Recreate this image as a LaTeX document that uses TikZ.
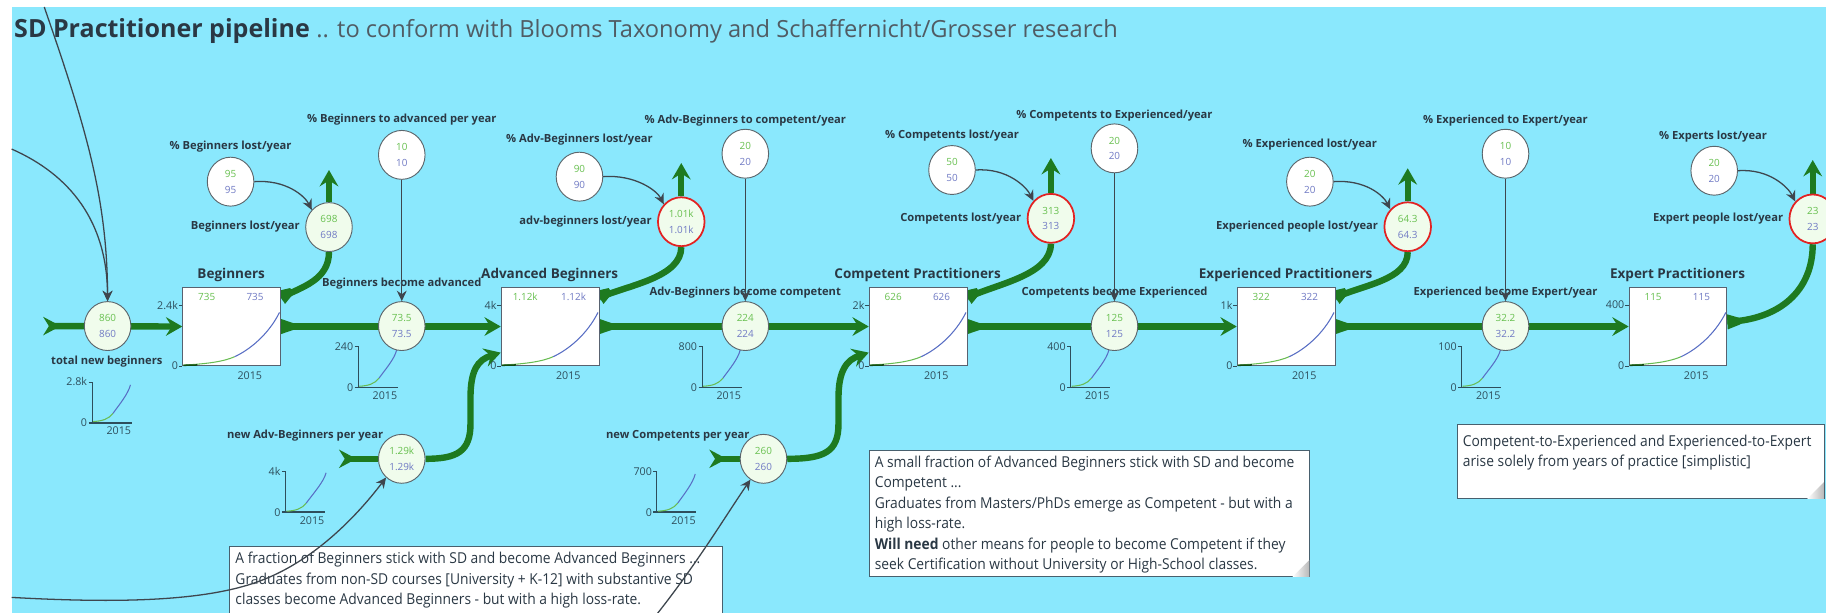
\documentclass[tikz,border=0pt]{standalone}
\usepackage{fontspec}
\setmainfont{Open Sans}
\newfontfamily\notefont[FakeStretch=0.92]{Open Sans}
\usetikzlibrary{arrows.meta,shapes.geometric,calc}
\pgfdeclarelayer{bg}
\pgfdeclarelayer{flow}
\pgfsetlayers{bg,flow,main}

\definecolor{bgcyan}{RGB}{138,232,253}
\definecolor{pipegreen}{RGB}{30,122,32}
\definecolor{linkgray}{RGB}{62,70,78}
\definecolor{labeltext}{RGB}{42,56,68}
\definecolor{titlegray}{RGB}{80,92,100}
\definecolor{numgreen}{RGB}{104,192,80}
\definecolor{numblue}{RGB}{112,122,196}
\definecolor{flowfill}{RGB}{240,252,236}
\definecolor{circgray}{RGB}{92,102,108}
\definecolor{lossred}{RGB}{226,34,34}
\definecolor{boxgray}{RGB}{88,98,112}
\definecolor{notegray}{RGB}{72,96,110}
\definecolor{curvegreen}{RGB}{104,188,82}
\definecolor{curveblue}{RGB}{88,110,196}
\definecolor{axiscol}{RGB}{46,78,92}

\tikzset{
  pipe/.style={draw=pipegreen, line width=5.5pt},
  pipearrow/.style={pipe, -{Stealth[length=14pt,width=16pt,inset=5pt]}},
  link/.style={draw=linkgray, line width=1.1pt, -{Stealth[length=9pt,width=8.5pt,inset=3pt]}},
  flowc/.style={ellipse, draw=circgray, line width=0.8pt, fill=flowfill, minimum width=40pt, minimum height=42pt, inner sep=0pt, align=center, font=\fontsize{8.5}{13.5}\selectfont},
  lossc/.style={flowc, draw=lossred, line width=1.5pt},
  parc/.style={flowc, fill=white},
  stockbox/.style={rectangle, draw=boxgray, fill=white, line width=0.8pt, minimum width=84pt, minimum height=67pt, inner sep=0pt},
  lbl/.style={font=\bfseries\fontsize{9.6}{11}\selectfont, text=labeltext, inner sep=0.5pt},
  stocktitle/.style={font=\bfseries\fontsize{11.6}{13}\selectfont, text=labeltext, inner sep=0pt},
  val/.style={font=\fontsize{8.5}{10}\selectfont, inner sep=0pt},
  axlbl/.style={font=\fontsize{9.2}{10}\selectfont, text=axiscol, inner sep=0.5pt},
  notebox/.style={rectangle, draw=notegray, fill=white, line width=0.8pt, inner sep=0pt},
  notetext/.style={font=\notefont\fontsize{12.9}{17.6}\selectfont, text=labeltext, align=left, inner sep=0pt},
}

% two stacked values inside a circle
\newcommand{\twovals}[2]{\textcolor{numgreen}{#1}\\\textcolor{numblue}{#2}}
% flared start of a pipe leaving a stock: #1 point, #2 direction
\newcommand{\flare}[2]{%
  \fill[pipegreen, shift={#1}, rotate=#2] (0,-6.5) -- (11,-2.75) -- (11,2.75) -- (0,6.5) -- cycle;}
% forked tail of a pipe coming from outside the model
\newcommand{\pipetail}[1]{%
  \fill[pipegreen, shift={#1}] (-5,-8) -- (10,0) -- (-5,8) -- (0,0) -- cycle;}
% folded corner of a note
\newcommand{\pagecurl}[1]{%
  \shade[left color=white, right color=black!28, shift={(#1.south east)}] (-15,-0.4) -- (-0.4,-15) -- (-0.4,-0.4) -- cycle;}
% contents of a stock: behaviour graph, values, axis labels
\newcommand{\stockinside}[3]{%
  \begin{scope}[shift={(#1.south west)}]
    \draw[curvegreen, line width=0.9pt] (1,-0.8) .. controls (22,-1.8) and (36,-4) .. (45,-8);
    \draw[curveblue, line width=0.9pt] (45,-8) .. controls (58,-14) and (74,-27) .. (83.5,-46);
    \draw[pipegreen!60!black, line width=1.3pt] (1,-0.6) -- (13,-0.9);
  \end{scope}
  \node[val, text=numgreen] (#1-v1) at ($(#1.north west)+(21,8.5)$) {#3};
  \node[val, text=numblue] (#1-v2) at ($(#1.north west)+(62.5,8.5)$) {#3};
  \draw[axiscol, line width=0.6pt] ($(#1.north west)+(-3,15.5)$) -- ($(#1.north west)+(0,15.5)$);
  \node[axlbl, anchor=east] (#1-max) at ($(#1.north west)+(-3,15.5)$) {#2};
  \draw[axiscol, line width=0.6pt] ($(#1.south west)+(-3,0)$) -- (#1.south west);
  \node[axlbl, anchor=east] (#1-zero) at ($(#1.south west)+(-3,0)$) {0};
  \node[axlbl] (#1-year) at ($(#1.south west)+(58,8.5)$) {2015};
}
% small behaviour graph of a flow: #1 name, #2 axis x, #3 top y, #4 max label, #5/#6 curve end
\newcommand{\flowgraph}[6]{%
  \draw[axiscol, line width=0.7pt] (#2-3,#3) -- (#2,#3) -- (#2,#3+35);
  \draw[axiscol, line width=1.6pt] (#2-3,#3+35) -- (#2+34,#3+35);
  \node[axlbl, anchor=east] (#1-max) at (#2-3.5,#3) {#4};
  \node[axlbl, anchor=east] (#1-zero) at (#2-3.5,#3+35) {0};
  \node[axlbl] (#1-year) at (#2+23,#3+42) {2015};
  \draw[curvegreen, line width=0.9pt] (#2+1,#3+34) .. controls (#2+9,#3+33.5) and (#2+14,#3+32) .. (#2+18,#3+27);
  \draw[curveblue, line width=0.9pt] (#2+18,#3+27) .. controls (#2+23,#3+20) and (#5-2,#6+8) .. (#5,#6);
}

\begin{document}
\begin{tikzpicture}[x=1pt,y=-1pt]
\useasboundingbox (0,0) rectangle (1568,526);
\clip (0,0) rectangle (1568,526);

\begin{pgfonlayer}{bg}
\fill[white] (0,0) rectangle (1568,526);
\fill[bgcyan] (10,6) rectangle (1568,526);
\node[anchor=base west, inner sep=0pt, text=labeltext] (title) at (12,32)
  {\fontsize{21.5}{24}\selectfont\textbf{SD Practitioner pipeline} {\fontsize{20.3}{24}\selectfont\textcolor{titlegray}{.. to conform with Blooms Taxonomy and Schaffernicht/Grosser research}}};

% notes
\node[notebox, anchor=north west, minimum width=423pt, minimum height=80pt] (note1) at (197,469) {};
\node[notetext, anchor=north west] (note1txt) at (202,474)
  {A fraction of Beginners stick with SD and become Advanced Beginners ...\\
   Graduates from non-SD courses [University + K-12] with substantive SD\\
   classes become Advanced Beginners - but with a high loss-rate.};
\node[notebox, anchor=north west, minimum width=378pt, minimum height=109pt] (note2) at (746,386) {};
\node[notetext, anchor=north west] (note2txt) at (751,391)
  {A small fraction of Advanced Beginners stick with SD and become\\
   Competent ...\\
   Graduates from Masters/PhDs emerge as Competent - but with a\\
   high loss-rate.\\
   \textbf{Will need} other means for people to become Competent if they\\
   seek Certification without University or High-School classes.};
\pagecurl{note2}
\node[notebox, anchor=north west, minimum width=315pt, minimum height=64pt] (note3) at (1251,364) {};
\node[notetext, anchor=north west] (note3txt) at (1256,373)
  {Competent-to-Experienced and Experienced-to-Expert\\
   arise solely from years of practice [simplistic]};
\pagecurl{note3}
\end{pgfonlayer}

% stocks
\node[stockbox, anchor=north west] (sBeg) at (156.5,246.5) {};
\node[stockbox, anchor=north west] (sAdv) at (430,246.5) {};
\node[stockbox, anchor=north west] (sCom) at (746,246.5) {};
\node[stockbox, anchor=north west] (sExp) at (1062,246.5) {};
\node[stockbox, anchor=north west] (sXpt) at (1398.5,246.5) {};
\stockinside{sBeg}{2.4k}{735}
\stockinside{sAdv}{4k}{1.12k}
\stockinside{sCom}{2k}{626}
\stockinside{sExp}{1k}{322}
\stockinside{sXpt}{400}{115}
\node[stocktitle] (tBeg) at (198.5,236.5) {Beginners};
\node[stocktitle] (tAdv) at (472,236.5) {Advanced Beginners};
\node[stocktitle] (tCom) at (788,236.5) {Competent Practitioners};
\node[stocktitle] (tExp) at (1104,236.5) {Experienced Practitioners};
\node[stocktitle] (tXpt) at (1440.5,236.5) {Expert Practitioners};

% flows
\node[flowc] (fTot) at (92.4,280) {\twovals{860}{860}};
\node[flowc] (fBA) at (345,280) {\twovals{73.5}{73.5}};
\node[flowc] (fAC) at (640,280) {\twovals{224}{224}};
\node[flowc] (fCE) at (957,280) {\twovals{125}{125}};
\node[flowc] (fEX) at (1292.8,280) {\twovals{32.2}{32.2}};
\node[flowc] (nAdv) at (345,394) {\twovals{1.29k}{1.29k}};
\node[flowc] (nCom) at (655.6,394) {\twovals{260}{260}};
\node[flowc] (lBeg) at (282.5,195) {\twovals{698}{698}};
\node[lossc] (lAdv) at (585,190.4) {\twovals{1.01k}{1.01k}};
\node[lossc] (lCom) at (902.4,187.5) {\twovals{313}{313}};
\node[lossc] (lExp) at (1208.8,194.7) {\twovals{64.3}{64.3}};
\node[lossc] (lXpt) at (1556.6,188) {\twovals{23}{23}};

% parameters
\node[parc] (pLB) at (198,156) {\twovals{95}{95}};
\node[parc] (pLA) at (497.6,151.7) {\twovals{90}{90}};
\node[parc] (pLC) at (817.5,146) {\twovals{50}{50}};
\node[parc] (pLE) at (1124.8,156) {\twovals{20}{20}};
\node[parc] (pLX) at (1472,146.6) {\twovals{20}{20}};
\node[parc] (pBA) at (345,133) {\twovals{10}{10}};
\node[parc] (pAC) at (640,132) {\twovals{20}{20}};
\node[parc] (pCE) at (957,127.4) {\twovals{20}{20}};
\node[parc] (pEX) at (1292.8,132) {\twovals{10}{10}};

% pipes
\begin{pgfonlayer}{flow}
\coordinate (tailTot) at (42,280);
\pipetail{(tailTot)}
\draw[pipearrow] (tailTot) -- (sBeg.west);
\flare{(sBeg.east)}{0}
\draw[pipearrow] (sBeg.east) -- (sAdv.west);
\flare{(sAdv.east)}{0}
\draw[pipearrow] (sAdv.east) -- (sCom.west);
\flare{(sCom.east)}{0}
\draw[pipearrow] (sCom.east) -- (sExp.west);
\flare{(sExp.east)}{0}
\draw[pipearrow] (sExp.east) -- (sXpt.west);

\coordinate (oBeg) at ($(sBeg.north east)+(0,9)$);
\coordinate (oAdv) at ($(sAdv.north east)+(0,9)$);
\coordinate (oCom) at ($(sCom.north east)+(0,9)$);
\coordinate (oExp) at ($(sExp.north east)+(0,9)$);
\coordinate (oXpt) at ($(sXpt.east)+(0,-4)$);
\coordinate (upBeg) at (282.5,146);
\coordinate (upAdv) at (585,140);
\coordinate (upCom) at (902.4,135.7);
\coordinate (upExp) at (1208.8,144.5);
\coordinate (upXpt) at (1556.6,137.4);
\flare{(oBeg)}{32}
\flare{(oAdv)}{32}
\flare{(oCom)}{32}
\flare{(oExp)}{32}
\flare{(oXpt)}{3}
\draw[pipe] (oBeg) .. controls +(18,-9) and +(0,24) .. (lBeg.south);
\draw[pipe] (oAdv) .. controls +(26,-11) and +(0,26) .. (lAdv.south);
\draw[pipe] (oCom) .. controls +(26,-12) and +(0,27) .. (lCom.south);
\draw[pipe] (oExp) .. controls +(24,-11) and +(0,24) .. (lExp.south);
\draw[pipe] (oXpt) .. controls +(45,-2) and +(0,40) .. (lXpt.south);
\draw[pipearrow] (lBeg.north) -- (upBeg);
\draw[pipearrow] (lAdv.north) -- (upAdv);
\draw[pipearrow] (lCom.north) -- (upCom);
\draw[pipearrow] (lExp.north) -- (upExp);
\draw[pipearrow] (lXpt.north) -- (upXpt);

\coordinate (tailNA) at (296,394);
\coordinate (inAdv) at ($(sAdv.south west)+(0,-11.5)$);
\pipetail{(tailNA)}
\draw[pipe] (tailNA) -- (nAdv.west);
\draw[pipearrow] (nAdv.east) .. controls (392,394) and (404,388) .. (404,364) -- (404,342) .. controls (404,318) and (410,309) .. (inAdv);
\coordinate (tailNC) at (614,394);
\coordinate (inCom) at ($(sCom.south west)+(0,-11.5)$);
\pipetail{(tailNC)}
\draw[pipe] (tailNC) -- (nCom.west);
\draw[pipearrow] (nCom.east) .. controls (708,394) and (720,388) .. (720,364) -- (720,342) .. controls (720,318) and (727,309) .. (inCom);

% behaviour graphs of the flows
\flowgraph{gTot}{79}{328}{2.8k}{112}{330.5}
\flowgraph{gBA}{307.5}{297.7}{240}{340.6}{300.6}
\flowgraph{gAC}{602.8}{297.7}{800}{635.6}{300.6}
\flowgraph{gCE}{919.3}{297.7}{400}{952.2}{300.6}
\flowgraph{gEX}{1255}{297.7}{100}{1288.4}{300.6}
\flowgraph{gNA}{245}{405}{4k}{280}{406}
\flowgraph{gNC}{564}{405}{700}{597}{407}
\end{pgfonlayer}

% labels
\node[lbl] (tPLB) at (198,126) {\% Beginners lost/year};
\node[lbl] (tPLA) at (497.6,120) {\% Adv-Beginners lost/year};
\node[lbl] (tPLC) at (817.5,116.5) {\% Competents lost/year};
\node[lbl] (tPLE) at (1124.8,124.5) {\% Experienced lost/year};
\node[lbl] (tPLX) at (1471,117.5) {\% Experts lost/year};
\node[lbl] (tPBA) at (345,103) {\% Beginners to advanced per year};
\node[lbl] (tPAC) at (640,103.5) {\% Adv-Beginners to competent/year};
\node[lbl] (tPCE) at (957,99.3) {\% Competents to Experienced/year};
\node[lbl] (tPEX) at (1292.8,103.5) {\% Experienced to Expert/year};
\node[lbl, anchor=east] (tLB) at ($(lBeg.west)+(-4,0)$) {Beginners lost/year};
\node[lbl, anchor=east] (tLA) at ($(lAdv.west)+(-4,0)$) {adv-beginners lost/year};
\node[lbl, anchor=east] (tLC) at ($(lCom.west)+(-4,0)$) {Competents lost/year};
\node[lbl, anchor=east] (tLE) at ($(lExp.west)+(-4,0)$) {Experienced people lost/year};
\node[lbl, anchor=east] (tLX) at ($(lXpt.west)+(-4,0)$) {Expert people lost/year};
\node[lbl] (tFBA) at (345,243.5) {Beginners become advanced};
\node[lbl] (tFAC) at (640,251) {Adv-Beginners become competent};
\node[lbl] (tFCE) at (957,251) {Competents become Experienced};
\node[lbl] (tFEX) at (1292.8,251) {Experienced become Expert/year};
\node[lbl] (tTot) at (91.7,310.6) {total new beginners};
\node[lbl] (tNA) at (262,374) {new Adv-Beginners per year};
\node[lbl] (tNC) at (582,374) {new Competents per year};

% information links
\coordinate (srcA) at (38,6);
\coordinate (srcB) at (10,128);
\coordinate (srcC) at (10,513);
\coordinate (srcD) at (562,530);
\draw[link] (srcA) .. controls (74,110) and (92,170) .. (fTot.north);
\draw[link] (srcB) .. controls (60,150) and (92,190) .. (fTot.north);
\draw[link] (srcC) .. controls (100,518) and (180,517) .. (228,497) .. controls (270,480) and (305,445) .. (nAdv.-130);
\draw[link] (srcD) .. controls (598,485) and (625,440) .. (nCom.-122);
\draw[link] (pLB.east) .. controls +(27,-2) and +(-6,-12) .. (lBeg.135);
\draw[link] (pLA.east) .. controls +(27,-2) and +(-6,-12) .. (lAdv.135);
\draw[link] (pLC.east) .. controls +(27,-2) and +(-6,-12) .. (lCom.135);
\draw[link] (pLE.east) .. controls +(27,-2) and +(-6,-12) .. (lExp.135);
\draw[link] (pLX.east) .. controls +(27,-2) and +(-6,-12) .. (lXpt.135);
\draw[link] (pBA.south) -- (fBA.north);
\draw[link] (pAC.south) -- (fAC.north);
\draw[link] (pCE.south) -- (fCE.north);
\draw[link] (pEX.south) -- (fEX.north);
\end{tikzpicture}
\end{document}
